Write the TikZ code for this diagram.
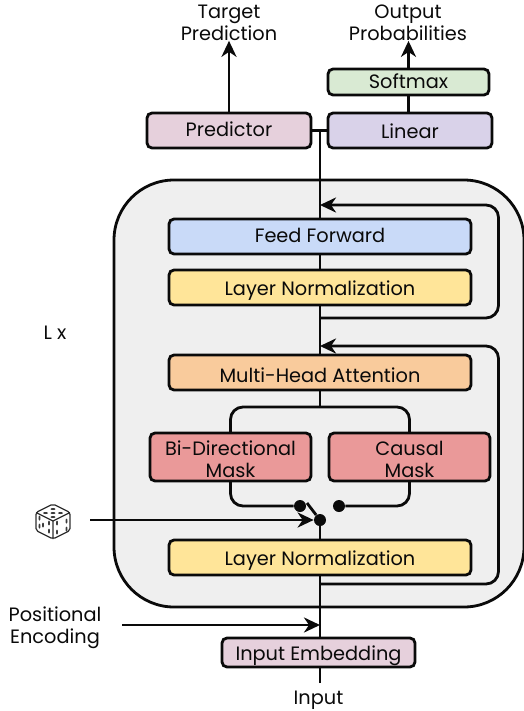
\documentclass[tikz,border=0pt]{standalone}
\usepackage{fontspec}
\setmainfont{Poppins}
\usepackage{xcolor}
\usetikzlibrary{arrows.meta,positioning,shapes.geometric}
\definecolor{tfpanel}{HTML}{EFEFEF}
\definecolor{tfpink}{HTML}{E6D0DC}
\definecolor{tfpurple}{HTML}{D9D2E9}
\definecolor{tfgreen}{HTML}{D9EAD3}
\definecolor{tfblue}{HTML}{C9DAF8}
\definecolor{tfyellow}{HTML}{FFE599}
\definecolor{tforange}{HTML}{F9CB9C}
\definecolor{tfred}{HTML}{EA9999}
\definecolor{tfink}{HTML}{0A0A0A}
\tikzstyle{wire} = [line width=1.6pt,color=tfink]
\tikzstyle{arrow} = [wire,-{Stealth[length=0.32cm,width=0.3cm,inset=0.1cm]}]
\tikzstyle{blockbox} = [rectangle, rounded corners=0.1cm, draw=tfink, line width=1.6pt, inner sep=0pt, outer sep=0pt,
    minimum width=6.04cm, minimum height=0.7cm, text height=0.32cm, text depth=0.02cm,
    font=\fontsize{11}{12.5}\selectfont, text=tfink, align=center]
\tikzstyle{maskbox} = [blockbox, fill=tfred, minimum width=3.22cm, minimum height=0.96cm, text height=0.83cm, text depth=0cm]
\tikzstyle{headbox} = [blockbox, minimum width=3.28cm]
\tikzstyle{caption} = [inner sep=0pt, outer sep=0pt, font=\fontsize{11}{12.5}\selectfont, text=tfink, align=center]
\tikzstyle{contact} = [circle, fill=tfink, inner sep=0pt, minimum size=0.24cm]
\tikzstyle{pip} = [ellipse, fill=tfink!80, inner sep=0pt, minimum width=0.04cm, minimum height=0.1cm]

\begin{document}
\begin{tikzpicture}
\useasboundingbox (0,0) rectangle (10.48,-14.22);
% repeated layer
\node[rectangle, rounded corners=1.2cm, draw=tfink, line width=1.6pt, fill=tfpanel,
    minimum width=8.2cm, minimum height=8.54cm, inner sep=0pt, outer sep=0pt] (panel) at (6.38,-7.87) {};
% centre column
\node[blockbox, fill=tfblue, text height=0.25cm, text depth=0.03cm] (ffwd) at (6.4,-4.73) {Feed Forward};
\node[blockbox, fill=tfyellow, below=0.32cm of ffwd] (normtop) {Layer Normalization};
\node[blockbox, fill=tforange, text height=0.4cm, below=1cm of normtop] (attn) {Multi-Head Attention};
\node[blockbox, fill=tfyellow, below=3cm of attn] (normbot) {Layer Normalization};
\node[blockbox, fill=tfpink, minimum width=3.86cm, minimum height=0.58cm, below=1.26cm of normbot, xshift=-0.03cm] (embed) {Input Embedding};
\node[caption] (input) at (6.37,-14) {Input};
\coordinate (inputtop) at (6.4,-13.66);
% masks and switch
\node[maskbox] (bimask) at (4.61,-9.14) {Bi-Directional\\Mask};
\node[maskbox, right=0.36cm of bimask] (camask) {Causal\\Mask};
\coordinate (split) at (6.4,-8.14);
\node[contact] (dotleft) at (6,-10.12) {};
\node[contact] (dotright) at (6.78,-10.12) {};
\node[contact] (dotmid) at (6.4,-10.4) {};
\coordinate (lever) at (6.14,-10.06);
% output heads
\node[headbox, fill=tfpink, text height=0.25cm, text depth=0.03cm] (predictor) at (4.58,-2.61) {Predictor};
\node[headbox, fill=tfpurple, right=0.34cm of predictor] (linear) {Linear};
\node[blockbox, fill=tfgreen, minimum width=3.22cm, minimum height=0.52cm, text height=0.28cm, above=0.36cm of linear, xshift=-0.03cm] (softmax) {Softmax};
\node[caption] (target) at (4.58,-0.46) {Target\\Prediction};
\node[caption] (output) at (8.16,-0.46) {Output\\Probabilities};
\coordinate (fork) at (6.4,-2.62);
% side labels
\node[caption] (times) at (1.1,-6.66) {L x};
\node[caption] (posenc) at (1.1,-12.56) {Positional\\Encoding};
\coordinate (posstart) at (2.44,-12.5);
\coordinate (posend) at (6.4,-12.5);
\coordinate (dicestart) at (1.8,-10.4);
\coordinate (dice) at (1.06,-10.42);
% main line
\draw[wire] (inputtop) -- (embed.south -| inputtop);
\draw[wire] (embed.north -| normbot) -- (normbot.south);
\draw[wire] (normbot.north) -- (dotmid);
\draw[wire] (attn.south) -- (split);
\draw[wire] (attn.north) -- (normtop.south);
\draw[wire] (normtop.north) -- (ffwd.south);
\draw[wire] (ffwd.north) -- (fork);
\draw[wire] (predictor.east) -- (linear.west);
\draw[wire] (linear.north -| softmax) -- (softmax.south);
% residuals
\coordinate (resbotin) at (6.4,-11.68);
\coordinate (resbotout) at (6.4,-6.92);
\coordinate (restopin) at (6.4,-6.36);
\coordinate (restopout) at (6.4,-4.1);
\draw[arrow, rounded corners=0.25cm] (resbotin) -- (9.97,-11.68) -- (9.97,-6.92) -- (resbotout);
\draw[arrow, rounded corners=0.25cm] (restopin) -- (9.97,-6.36) -- (9.97,-4.1) -- (restopout);
% mask branches
\draw[wire, rounded corners=0.25cm] (bimask.north) |- (split) -| (camask.north);
\draw[wire, rounded corners=0.25cm] (bimask.south) |- (dotleft);
\draw[wire, rounded corners=0.25cm] (camask.south) |- (dotright);
\draw[wire] (lever) -- (dotmid);
% inputs from the side
\draw[arrow] (dicestart) -- (dotmid);
\draw[arrow] (posstart) -- (posend);
% outputs
\draw[arrow] (predictor.north) -- (predictor.north |- target.south);
\draw[arrow] (softmax.north) -- (softmax.north |- output.south);
% dice
\begin{scope}[shift={(dice)}]
\draw[tfink!85, line width=0.7pt, line join=round, rounded corners=0.04cm, fill=white]
  (0,0.34) -- (0.34,0.17) -- (0.34,-0.19) -- (0,-0.36) -- (-0.34,-0.19) -- (-0.34,0.17) -- cycle;
\draw[tfink!85, line width=0.7pt] (-0.34,0.17) -- (0,0) -- (0.34,0.17) (0,0) -- (0,-0.36);
\foreach \px/\py in {0/0.24,-0.15/0.16,0/0.16,0.15/0.16,0/0.08}
  \node[pip, rotate=90] at (\px,\py) {};
\foreach \px/\py in {-0.27/0.06,-0.08/-0.04,-0.27/-0.1,-0.08/-0.2,-0.2/-0.08}
  \node[pip] at (\px,\py) {};
\foreach \px/\py in {0.08/-0.04,0.27/0.0,0.08/-0.22,0.27/-0.16}
  \node[pip] at (\px,\py) {};
\end{scope}
\end{tikzpicture}
\end{document}
